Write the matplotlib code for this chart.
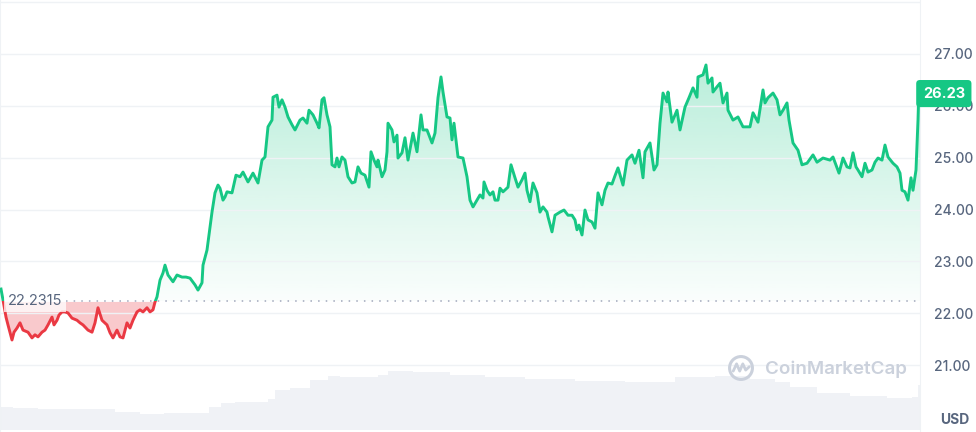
import numpy as np
import matplotlib
matplotlib.use("Agg")
import matplotlib.pyplot as plt
from matplotlib.patches import Rectangle, Circle
from matplotlib.path import Path
import matplotlib.transforms as mtrans

plt.rcParams["font.family"] = ["Inter", "DejaVu Sans"]

# datos (indice de muestra, precio USD)
t = [1, 3, 6, 8, 12, 14, 17, 20, 23, 28, 32, 35, 38, 42, 45, 48, 52, 54, 57, 59,
     62, 65, 68, 72, 77, 80, 83, 88, 92, 95, 98, 102, 107, 110, 113, 117, 120, 123, 127, 130,
     133, 137, 140, 143, 147, 150, 153, 155, 157, 160, 163, 165, 168, 173, 177, 182, 186, 190, 195, 198,
     202, 203, 207, 210, 212, 215, 218, 220, 223, 225, 227, 232, 236, 240, 243, 248, 253, 258, 262, 265,
     268, 272, 273, 277, 279, 282, 285, 288, 292, 295, 300, 303, 307, 309, 313, 317, 319, 322, 324, 327,
     330, 332, 335, 337, 339, 342, 345, 348, 352, 355, 358, 361, 365, 369, 371, 374, 377, 378, 382, 385,
     387, 388, 392, 394, 397, 398, 402, 405, 408, 413, 417, 421, 423, 427, 432, 435, 438, 441, 443, 447,
     450, 452, 454, 458, 463, 467, 470, 473, 477, 480, 483, 484, 487, 490, 493, 495, 498, 500, 503, 508,
     511, 515, 518, 522, 525, 527, 530, 533, 537, 540, 543, 547, 548, 552, 555, 560, 564, 568, 572, 575,
     577, 579, 582, 585, 588, 592, 595, 598, 602, 605, 608, 612, 615, 618, 623, 627, 632, 635, 639, 643,
     645, 650, 654, 657, 660, 663, 667, 668, 672, 677, 680, 685, 689, 693, 697, 698, 703, 706, 708, 712,
     713, 717, 720, 723, 727, 728, 733, 738, 743, 750, 753, 758, 763, 765, 768, 773, 777, 780, 783, 787,
     789, 793, 798, 802, 807, 813, 817, 823, 830, 833, 839, 843, 847, 850, 853, 856, 858, 862, 865, 868,
     872, 875, 878, 882, 885, 888, 893, 897, 900, 902, 905, 908, 911, 913, 916, 918, 919, 920]
precio = [22.47, 22.26, 21.93, 21.78, 21.49, 21.64, 21.72, 21.82, 21.68, 21.64, 21.53, 21.59, 21.55, 21.64, 21.68, 21.78, 21.93, 21.78, 21.87, 21.97,
          22.03, 22.03, 22.01, 21.91, 21.87, 21.82, 21.78, 21.68, 21.64, 21.82, 22.11, 21.87, 21.78, 21.63, 21.53, 21.68, 21.55, 21.53, 21.82, 21.72,
          21.87, 22.03, 22.07, 22.03, 22.11, 22.03, 22.07, 22.22, 22.32, 22.64, 22.78, 22.93, 22.74, 22.61, 22.74, 22.70, 22.70, 22.68, 22.55, 22.45,
          22.59, 22.93, 23.22, 23.66, 23.95, 24.32, 24.47, 24.41, 24.18, 24.24, 24.34, 24.32, 24.66, 24.63, 24.72, 24.53, 24.70, 24.51, 24.95, 25.01,
          25.59, 25.72, 26.16, 26.20, 25.97, 26.11, 25.97, 25.78, 25.63, 25.53, 25.72, 25.76, 25.66, 25.91, 25.82, 25.66, 25.57, 26.11, 26.15, 25.82,
          25.59, 24.86, 24.82, 24.99, 24.82, 25.01, 24.95, 24.63, 24.51, 24.53, 24.82, 24.70, 24.66, 24.43, 25.11, 24.95, 24.82, 24.95, 24.63, 24.76,
          25.11, 25.66, 25.53, 25.30, 25.43, 24.99, 25.09, 25.38, 24.95, 25.47, 25.11, 25.82, 25.53, 25.53, 25.28, 25.47, 26.15, 26.55, 26.26, 25.78,
          25.76, 25.34, 25.66, 25.01, 24.99, 24.63, 24.18, 24.05, 24.18, 24.28, 24.22, 24.53, 24.37, 24.28, 24.34, 24.18, 24.18, 24.41, 24.34, 24.43,
          24.86, 24.61, 24.43, 24.57, 24.70, 24.37, 24.15, 24.51, 24.32, 23.95, 24.05, 23.95, 23.86, 23.57, 23.89, 23.95, 23.99, 23.89, 23.89, 23.80,
          23.61, 23.70, 23.51, 23.99, 23.80, 23.76, 23.64, 24.32, 24.09, 24.37, 24.51, 24.49, 24.65, 24.80, 24.47, 24.95, 25.05, 24.89, 25.14, 24.61,
          25.11, 25.28, 24.76, 24.86, 25.66, 26.24, 26.07, 26.26, 25.68, 25.91, 25.53, 25.97, 26.15, 26.34, 26.16, 26.55, 26.59, 26.78, 26.43, 26.53,
          26.26, 26.36, 26.43, 26.05, 26.24, 25.91, 25.72, 25.78, 25.59, 25.59, 25.86, 25.68, 26.30, 26.05, 26.15, 26.24, 26.11, 25.82, 25.91, 26.05,
          25.72, 25.28, 25.14, 24.86, 24.89, 25.05, 24.91, 24.99, 24.95, 25.01, 24.70, 24.99, 24.82, 24.80, 25.09, 24.82, 24.76, 24.63, 24.89, 24.72,
          24.76, 24.91, 24.99, 24.95, 25.24, 25.01, 24.89, 24.82, 24.70, 24.37, 24.34, 24.18, 24.61, 24.37, 24.76, 25.72, 26.39, 26.23]

# volumen (millones, escala relativa)
t_vol = [0, 25, 50, 100, 130, 150, 160, 168, 205, 212, 230, 240, 265, 270, 280, 300, 320, 335, 345, 375,
         380, 395, 430, 470, 500, 550, 600, 650, 700, 730, 770, 780, 800, 833, 867, 907, 916, 920]
volumen = [23, 22, 21, 21, 18, 16, 16, 17, 17, 23, 27, 28, 28, 31, 40, 42, 50, 54, 53, 53,
           55, 59, 58, 55, 53, 51, 49, 48, 53, 54, 51, 48, 43, 37, 34, 32, 33, 45]

base = 22.2315
ultimo = 26.23
niveles = [21, 22, 23, 24, 25, 26, 27, 28]
etiquetas = ["21.00", "22.00", "23.00", "24.00", "25.00", "26.00", "27.00", ""]

verde = "#16c784"
rojo = "#ea3943"
gris = "#58667e"
linea_grid = "#eff2f5"

t = np.array(t, dtype=float)
precio = np.array(precio)

fig = plt.figure(figsize=(9.76, 4.32), dpi=100)
fig.patch.set_facecolor("white")
ancho = 920 / 976

# volumen por detras
axv = fig.add_axes([0, 2 / 432, ancho, 100 / 432])
axv.fill_between(t_vol, volumen, 0, color="#f0f2f6", lw=0, step="mid")
axv.set_xlim(0, 920)
axv.set_ylim(0, 100)
axv.axis("off")

ax = fig.add_axes([0, 0, ancho, 1])
ax.patch.set_alpha(0)
ax.set_xlim(0, 920)
ax.set_ylim(19.72, 28.03)

# relleno verde con degradado
arriba = ax.fill_between(t, precio, base, where=precio >= base, interpolate=True,
                         facecolor="none", edgecolor="none")
camino = Path.make_compound_path(*arriba.get_paths())
grad = np.zeros((256, 1, 4))
grad[..., 0:3] = matplotlib.colors.to_rgb(verde)
grad[:, 0, 3] = np.linspace(0.02, 0.30, 256)
im = ax.imshow(grad, extent=[0, 920, base, 26.8], origin="lower", aspect="auto", zorder=1)
im.set_clip_path(camino, ax.transData)

# relleno rojo
ax.fill_between(t, precio, base, where=precio <= base, interpolate=True,
                color=rojo, alpha=0.27, lw=0, zorder=1)

# linea verde / roja segun la base
clip_sup = Rectangle((-50, base), 1100, 20, transform=ax.transData)
clip_inf = Rectangle((-50, base - 20), 1100, 20, transform=ax.transData)
lv, = ax.plot(t, precio, color=verde, lw=2.1, solid_joinstyle="round", zorder=3)
lv.set_clip_path(clip_sup)
lr, = ax.plot(t, precio, color=rojo, lw=2.1, solid_joinstyle="round", zorder=3)
lr.set_clip_path(clip_inf)

# linea punteada de la base
ax.plot([66, 920], [base, base], color="#a1a7bb", lw=1.1, ls=(0, (1, 4)), zorder=2)
ax.text(8, base, "22.2315", color=gris, fontsize=10.5, va="center", ha="left", zorder=4,
        bbox=dict(boxstyle="square,pad=0.25", fc="white", ec="none", alpha=0.75))

# ejes
ax.set_yticks(niveles)
ax.set_yticklabels(etiquetas)
ax.yaxis.tick_right()
ax.tick_params(axis="y", length=0, pad=10, labelsize=10, labelcolor=gris)
for lab in ax.get_yticklabels():
    lab.set_fontweight("medium")
ax.set_xticks([])
ax.grid(axis="y", color=linea_grid, lw=1, zorder=0)
for lado in ["top", "bottom"]:
    ax.spines[lado].set_visible(False)
ax.spines["right"].set_color(linea_grid)
ax.spines["left"].set_color(linea_grid)

# etiqueta del ultimo precio
tr = mtrans.blended_transform_factory(ax.transAxes, ax.transData)
ax.text(1.003, ultimo, f"{ultimo:.2f}", transform=tr, color="white", fontsize=10.5,
        fontweight="bold", va="center", ha="left", zorder=6, clip_on=False,
        bbox=dict(boxstyle="round,pad=0.45,rounding_size=0.25", fc=verde, ec="none"))

fig.text(0.993, 12 / 432, "USD", color=gris, fontsize=10, fontweight="bold",
         ha="right", va="center")

# marca de agua
wm = "#cbd1dc"
ax_logo = fig.add_axes([728 / 976, 1 - 381 / 432, 26 / 976, 26 / 432])
ax_logo.add_patch(Circle((0.5, 0.5), 0.44, fill=False, ec=wm, lw=2.2))
ax_logo.plot([0.2, 0.33, 0.45, 0.57, 0.68, 0.82], [0.38, 0.66, 0.38, 0.66, 0.42, 0.55],
             color=wm, lw=2, solid_joinstyle="round", solid_capstyle="round")
ax_logo.set_xlim(0, 1)
ax_logo.set_ylim(0, 1)
ax_logo.axis("off")
fig.text(765 / 976, 1 - 369 / 432, "CoinMarketCap", color=wm, fontsize=13.5,
         fontweight="semibold", ha="left", va="center")

fig.savefig("out.png", dpi=100)
